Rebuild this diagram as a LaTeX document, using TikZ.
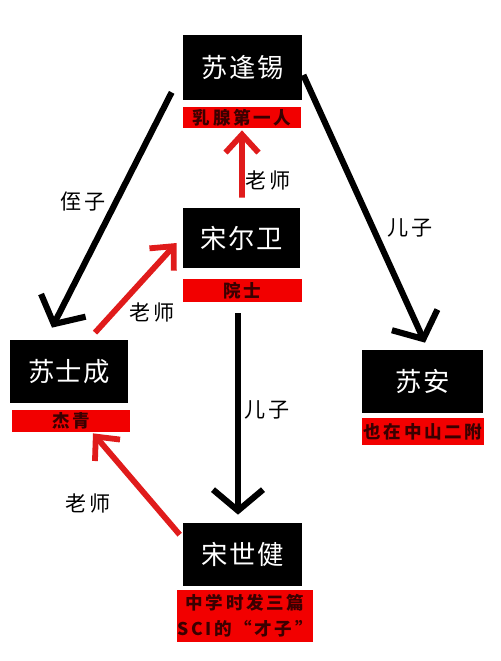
\documentclass[tikz,border=0pt]{standalone}
\usepackage{fontspec}
\setmainfont{Noto Sans CJK SC}
\newfontfamily\namefont[LetterSpace=5]{Noto Sans CJK SC}
\newfontfamily\tagfont[LetterSpace=15]{Noto Sans CJK SC}
\newfontfamily\relfont[LetterSpace=10]{Noto Sans CJK SC}
\usepackage{xcolor}
\usepackage{tikz}
\usetikzlibrary{calc}
\usetikzlibrary{arrows.meta}
\definecolor{tagred}{HTML}{F20000}
\definecolor{linkred}{HTML}{E01B1B}
\definecolor{tagink}{HTML}{3A0000}
\tikzstyle{person} = [fill=black, text=white, inner sep=0, font=\namefont\fontsize{15}{15}\selectfont]
\tikzstyle{tag} = [fill=tagred, text=tagink, inner sep=0, font=\tagfont\bfseries\fontsize{10}{15}\selectfont]
\tikzstyle{kin} = [draw=black, line width=3.5pt, -{Straight Barb[length=4.2mm, width=10mm]}]
\tikzstyle{teach} = [draw=linkred, line width=3.3pt, -{Straight Barb[length=3.6mm, width=6.6mm]}]
\tikzstyle{rel} = [draw=none, inner sep=0, font=\relfont\fontsize{12}{12}\selectfont]

\begin{document}
\begin{tikzpicture}[x=0.02cm, y=-0.02cm]
\useasboundingbox (0,0) rectangle (500,661);
\node [person, minimum width=2.38cm, minimum height=1.3cm]  (sufx) at (242.5,67.5) {苏逢锡};
\node [tag, minimum width=2.36cm, minimum height=0.42cm]    (sufxtag) at (242,117.5) {乳腺第一人};
\node [person, minimum width=2.34cm, minimum height=1.2cm]  (serw) at (241.5,238) {宋尔卫};
\node [tag, minimum width=2.38cm, minimum height=0.46cm]    (serwtag) at (242.5,290.5) {院士};
\node [person, minimum width=2.36cm, minimum height=1.26cm] (ssc) at (69,371.5) {苏士成};
\node [tag, minimum width=2.36cm, minimum height=0.44cm]    (ssctag) at (71,421) {杰青};
\node [person, minimum width=2.42cm, minimum height=1.26cm] (sa) at (422.5,381.5) {苏安};
\node [tag, minimum width=2.44cm, minimum height=0.54cm]    (satag) at (423,431.5) {也在中山二附};
\node [person, minimum width=2.38cm, minimum height=1.26cm] (ssj) at (242.5,554.5) {宋世健};
\node [tag, minimum width=2.6cm, minimum height=1.04cm, align=center] (ssjtag) at (245,616) {中学时发三篇\\SCI的“才子”};

\draw [kin] ($(sufx.south west)+(-11,-8)$) to ($(ssc.north)+(-17,-12)$);
\node [rel] (nephew) at (83,202) {侄子};
\draw [kin] ($(sufx.east)+(1,7.5)$) to ($(sa.north)+(2.5,-7)$);
\node [rel] (sonsa) at (410,228) {儿子};
\draw [kin] ($(serwtag.south)+(-4.5,11)$) to ($(ssj.north)+(-4.5,-8)$);
\node [rel] (sonssj) at (267,410) {儿子};
\draw [teach] ($(serw.north)+(0.5,-10)$) to ($(sufxtag.south)+(0,2)$);
\node [rel] (teachsufx) at (268,180) {老师};
\draw [teach] ($(ssc.north)+(26,-7)$) to ($(serw.west)+(-6,5)$);
\node [rel] (teachserw) at (152,312) {老师};
\draw [teach] ($(ssj.north west)+(-3,12)$) to ($(ssctag.south)+(22,1)$);
\node [rel] (teachssc) at (88,503) {老师};
\end{tikzpicture}
\end{document}
